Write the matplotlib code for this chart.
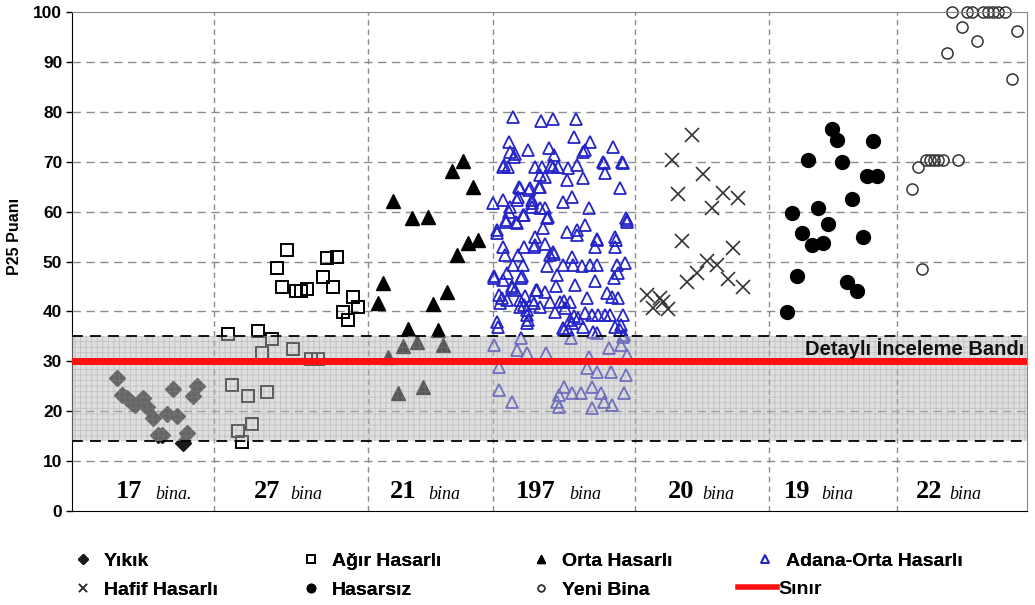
import matplotlib
matplotlib.use("Agg")
import matplotlib.pyplot as plt
from matplotlib.lines import Line2D

# DATA (x = position inside the group strip, y = P25 score)
# ----------
yikik_x = [45, 50, 55, 60, 63, 71, 75, 81, 86, 90, 95, 101, 105, 111, 115, 121, 125]
yikik_y = [26.7, 23.2, 22.6, 21.6, 21.2, 22.6, 20.9, 18.6, 15.2, 15.2, 19.4, 24.4, 19.1, 13.6, 15.6, 23.0, 25.0]

agir_x = [156, 186, 200, 190, 221, 239, 246, 160, 176, 195, 166, 180, 170,
          215, 205, 210, 224, 229, 235, 251, 255, 265, 261, 281, 286, 271, 276]
agir_y = [35.4, 36.1, 34.4, 31.7, 32.4, 30.5, 30.5, 25.3, 23.1, 23.8, 16.0, 17.4, 13.9,
          52.4, 48.6, 44.9, 44.1, 44.1, 44.5, 46.8, 50.7, 51.0, 44.9, 42.9, 40.8, 39.8, 38.3]

orta_x = [391, 380, 401, 321, 340, 356, 396, 406, 385, 311, 375, 306, 361, 336, 366,
          331, 345, 371, 316, 326, 351]
orta_y = [70.2, 68.2, 65.0, 62.1, 58.7, 59.0, 53.8, 54.3, 51.3, 45.6, 43.9, 41.7, 41.4, 36.4, 36.3,
          33.1, 33.9, 33.3, 30.9, 23.6, 24.9]

adana_x = [441, 469, 481, 504, 502, 437, 518, 541, 456, 477,
           438, 442, 513, 511, 550, 531, 431, 436, 463, 470,
           481, 486, 496, 505, 533, 468, 473, 495, 511, 448,
           458, 468, 548, 446, 500, 491, 421, 431, 460, 438,
           460, 468, 517, 451, 476, 434, 445, 555, 513, 425,
           425, 471, 495, 505, 525, 543, 463, 431, 452, 463,
           473, 481, 523, 543, 433, 446, 478, 441, 451, 475,
           491, 500, 501, 510, 518, 525, 545, 553, 485, 435,
           422, 546, 542, 431, 450, 503, 523, 440, 443, 465,
           473, 535, 515, 540, 546, 430, 428, 435, 448, 453,
           460, 478, 488, 498, 448, 455, 468, 483, 493, 456,
           513, 520, 526, 533, 538, 551, 506, 425, 498, 426,
           491, 496, 511, 543, 548, 521, 525, 551,
           422, 449, 445, 455, 474, 499, 492, 537, 549, 552,
           555, 517, 515, 525, 539, 554, 427, 427, 440, 492,
           487, 485, 487, 500, 509, 520, 529, 532, 540, 520, 552,
           443, 482, 532, 551, 432, 479, 457, 447, 467, 445,
           460, 473, 437, 452, 554, 434, 444, 475, 505, 555,
           525, 544, 462, 482, 422, 449, 484, 440, 464, 452,
           455, 500, 455, 549, 427, 462, 502, 492]
adana_y = [79.0, 78.2, 78.6, 78.6, 75.0, 74.0, 74.0, 73.0, 72.3, 72.7,
           72.0, 71.0, 72.3, 72.0, 70.0, 70.0, 69.0, 69.0, 69.0, 69.0,
           69.0, 69.0, 68.7, 69.3, 67.7, 67.3, 67.0, 66.3, 66.7, 64.7,
           64.7, 65.0, 64.7, 63.0, 63.0, 62.0, 61.7, 62.3, 62.3, 61.0,
           61.0, 60.7, 60.7, 59.3, 59.0, 58.0, 57.7, 58.0, 57.3, 56.3,
           55.7, 56.7, 56.0, 55.3, 54.6, 55.0, 55.0, 53.0, 53.0, 53.3,
           53.6, 52.0, 53.0, 53.0, 51.3, 51.3, 51.3, 49.3, 49.3, 49.0,
           49.3, 51.0, 49.3, 49.0, 49.3, 49.3, 49.3, 49.6, 47.3, 47.6,
           46.6, 47.6, 46.6, 46.3, 47.0, 45.3, 46.0, 45.0, 44.3, 44.3,
           43.9, 43.6, 42.6, 42.9, 42.6, 42.6, 41.6, 42.3, 42.3, 43.0,
           42.3, 41.9, 41.9, 41.9, 40.9, 40.3, 40.9, 39.9, 40.6, 38.3,
           39.6, 39.3, 39.3, 39.3, 39.3, 39.3, 38.6, 37.9, 38.3, 36.9,
           36.6, 36.3, 36.9, 36.9, 36.3, 35.9, 35.6, 34.9,
           33.3, 34.6, 32.3, 31.6, 31.6, 34.6, 36.3, 32.6, 33.3, 35.3,
           31.3, 30.9, 28.6, 27.9, 27.9, 27.3, 28.9, 24.2, 21.9, 24.9,
           23.2, 21.9, 20.9, 23.6, 23.6, 24.9, 23.6, 21.9, 21.2, 20.6, 23.6,
           71.6, 71.3, 69.7, 69.7, 69.3, 69.3, 64.3, 65.0, 65.0, 62.3,
           61.7, 60.7, 60.0, 59.3, 58.7, 58.3, 58.0, 58.7, 56.3, 58.3,
           54.3, 54.3, 53.0, 51.6, 47.0, 46.6, 45.0, 44.6, 44.3, 41.3,
           39.3, 37.6, 37.6, 37.3, 43.3, 41.6, 39.0, 42.0]

hafif_x = [620, 600, 631, 606, 651, 666, 640, 610, 661, 635, 645, 625, 615, 656, 671,
           575, 581, 588, 591, 596]
hafif_y = [75.4, 70.3, 67.5, 63.5, 63.7, 62.7, 60.8, 54.1, 52.8, 50.1, 49.3, 47.6, 45.8, 46.4, 44.8,
           43.3, 40.6, 42.6, 41.9, 40.4]

hasarsiz_x = [760, 765, 801, 736, 770, 795, 805, 780, 720, 746, 756, 730, 740, 751, 791,
              725, 775, 785, 715]
hasarsiz_y = [76.6, 74.3, 74.1, 70.3, 70.0, 67.1, 67.2, 62.5, 59.8, 60.8, 57.5, 55.8, 53.4, 53.8, 55.0,
              47.1, 45.8, 44.1, 39.9]

yeni_x = [880, 895, 900, 911, 916, 921, 926, 933, 890, 905, 875, 945, 940,
          854, 858, 862, 866, 871, 886, 846, 840, 850]
yeni_y = [100, 100, 100, 100, 100, 100, 100, 100, 96.9, 94.2, 91.7, 96.1, 86.6,
          70.3, 70.3, 70.3, 70.3, 70.3, 70.3, 69.0, 64.5, 48.4]

group_counts = ["17", "27", "21", "197", "20", "19", "22"]
group_units = ["bina.", "bina", "bina", "bina", "bina", "bina", "bina"]

band_low = 14
band_high = 35
limit = 30

# LAYOUT
# ----------
group_edges = [142, 296, 421, 563, 697, 825]
count_right = [70, 208, 344, 484, 622, 738, 870]
unit_left = [83, 218, 356, 497, 630, 749, 877]
x_max = 955


def fx(px):
    return px / 1035.0


def fy(py):
    return 1 - py / 605.0


def main():
    plt.rcParams['font.family'] = ['Liberation Sans', 'DejaVu Sans']
    plt.rcParams['hatch.linewidth'] = 0.6

    fig = plt.figure(figsize=(10.35, 6.05), dpi=100)
    ax = fig.add_axes([fx(72), fy(511), fx(x_max), 499 / 605.0])
    ax.set_xlim(0, x_max)
    ax.set_ylim(0, 100)

    # grid
    for v in range(10, 100, 10):
        ax.axhline(v, color='#8c8c8c', lw=1.0, ls=(0, (6, 4)), zorder=1)
    for e in group_edges:
        ax.axvline(e, color='#8c8c8c', lw=1.0, ls=(0, (4, 3)), zorder=1)

    # markers
    ax.plot(yikik_x, yikik_y, 'D', ms=8, color='#1a1a1a', mec='#1a1a1a', ls='none', zorder=2, label='Yıkık')
    ax.plot(agir_x, agir_y, 's', ms=9, mfc='none', mec='black', mew=1.4, ls='none', zorder=2, label='Ağır Hasarlı')
    ax.plot(orta_x, orta_y, '^', ms=10, color='black', ls='none', zorder=2, label='Orta Hasarlı')
    ax.plot(adana_x, adana_y, '^', ms=8.5, mfc='none', mec='#2525c8', mew=1.3, ls='none', zorder=2,
            label='Adana-Orta Hasarlı')
    ax.plot(hafif_x, hafif_y, 'x', ms=10, color='#333333', mew=1.2, ls='none', zorder=2, label='Hafif Hasarlı')
    ax.plot(hasarsiz_x, hasarsiz_y, 'o', ms=10, color='black', ls='none', zorder=2, label='Hasarsız')
    ax.plot(yeni_x, yeni_y, 'o', ms=8, mfc='none', mec='#333333', mew=1.1, ls='none', zorder=2,
            label='Yeni Bina', clip_on=False)

    # detailed inspection band
    ax.axhspan(band_low, band_high, facecolor=(0.74, 0.74, 0.74, 0.47),
               edgecolor=(0.55, 0.55, 0.55, 0.35), lw=0, hatch='+++', zorder=3)
    ax.axhline(band_high, color='black', lw=1.3, ls=(0, (6, 4)), zorder=4)
    ax.axhline(band_low, color='black', lw=1.3, ls=(0, (6, 4)), zorder=4)
    ax.axhline(limit, color='#ff1010', lw=5, zorder=5, label='Sınır')
    ax.text(x_max - 3, limit + 0.4, 'Detaylı İnceleme Bandı', ha='right', va='bottom',
            fontsize=14.5, fontweight='bold', color='#111111', zorder=6)

    # group counts
    for i in range(len(group_counts)):
        ax.text(count_right[i], 3.9, group_counts[i], ha='right', va='center',
                family='Liberation Serif', fontweight='bold', fontsize=19)
        ax.text(unit_left[i], 3.3, group_units[i], ha='left', va='center',
                family='Liberation Serif', style='italic', fontsize=13)

    # axes
    ax.set_xticks([])
    ax.set_yticks(range(0, 101, 10))
    ax.tick_params(axis='y', length=4, width=1, labelsize=12.5, pad=3)
    for lab in ax.get_yticklabels():
        lab.set_fontweight('bold')
    ax.spines['left'].set_color('black')
    ax.spines['bottom'].set_color('black')
    ax.spines['top'].set_color('#888888')
    ax.spines['right'].set_color('#888888')
    ax.set_ylabel('P25 Puanı', fontsize=11.5, fontweight='bold')
    ax.yaxis.set_label_coords(-0.052, 0.55)

    # legend (one per column)
    handles, labels = ax.get_legend_handles_labels()
    h = dict(zip(labels, handles))
    columns = [(['Yıkık', 'Hafif Hasarlı'], 73),
               (['Ağır Hasarlı', 'Hasarsız'], 301),
               (['Orta Hasarlı', 'Yeni Bina'], 531),
               (['Adana-Orta Hasarlı'], 755)]
    for names, left in columns:
        leg = fig.legend([h[n] for n in names], names, loc='upper left',
                         bbox_to_anchor=(fx(left), fy(552)), frameon=False,
                         borderpad=0, borderaxespad=0, handlelength=1.0,
                         handletextpad=0.6, labelspacing=0.6, markerscale=0.6,
                         prop={'weight': 'bold', 'size': 14})
        fig.add_artist(leg)
    sinir = Line2D([], [], color='#ff1010', lw=4)
    fig.legend([sinir], ['Sınır'], loc='upper left', bbox_to_anchor=(fx(738), fy(580)),
               frameon=False, borderpad=0, borderaxespad=0, handlelength=2.0,
               handletextpad=0.1, prop={'weight': 'bold', 'size': 14})

    fig.savefig('out.png', dpi=100)


if __name__ == "__main__":
    main()
